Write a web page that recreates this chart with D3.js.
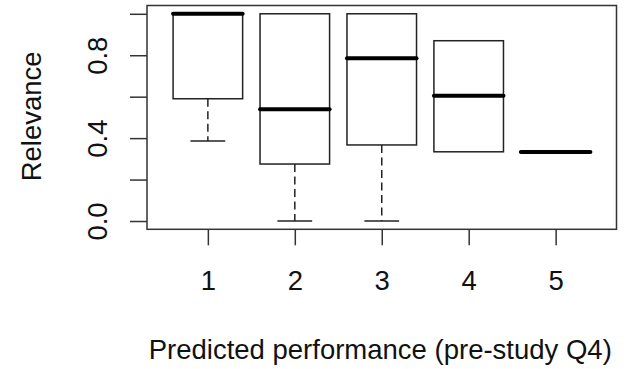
<!DOCTYPE html>
<html>
<head>
<meta charset="utf-8">
<script src="https://cdn.jsdelivr.net/npm/d3@7"></script>
<style>
  html, body { margin: 0; padding: 0; background: #fff; }
  svg { display: block; }
  text { font-family: "Liberation Sans", Arial, sans-serif; fill: #111; }
</style>
</head>
<body>
<svg id="chart" width="627" height="369"></svg>
<script>
// Data: boxplot statistics per category
const categories = ["1", "2", "3", "4", "5"];
const lowerWhisker = [0.386, 0.0, 0.0, 0.334, 0.333];
const q1Values     = [0.590, 0.275, 0.367, 0.334, 0.333];
const medians      = [1.0, 0.539, 0.785, 0.605, 0.333];
const q3Values     = [1.0, 1.0, 1.0, 0.870, 0.333];
const upperWhisker = [1.0, 1.0, 1.0, 0.870, 0.333];
const yTicks = [0, 0.2, 0.4, 0.6, 0.8, 1.0];
const yTickLabels = ["0.0", "", "0.4", "", "0.8", ""];
const xTitle = "Predicted performance (pre-study Q4)";
const yTitle = "Relevance";

(function () {
const svg = d3.select("#chart");
const pl = 147, pr = 616.5, pt = 5.5, pb = 229.3;
const fs = 27.5;

const x = d3.scaleLinear().domain([0.3, 5.7]).range([pl, pr]);
const y = d3.scaleLinear().domain([-0.04, 1.04]).range([pb, pt]);

const data = categories.map((c, i) => ({
  c, pos: i + 1,
  lo: lowerWhisker[i], q1: q1Values[i], med: medians[i], q3: q3Values[i], hi: upperWhisker[i]
}));

const halfW = 0.4;
const stroke = "#222";
const g = svg.append("g");

data.forEach(d => {
  if (d.lo < d.q1) {
    g.append("line").attr("x1", x(d.pos)).attr("x2", x(d.pos))
      .attr("y1", y(d.q1)).attr("y2", y(d.lo))
      .attr("stroke", stroke).attr("stroke-width", 1.5).attr("stroke-dasharray", "8,4.5");
    g.append("line").attr("x1", x(d.pos - halfW / 2)).attr("x2", x(d.pos + halfW / 2))
      .attr("y1", y(d.lo)).attr("y2", y(d.lo))
      .attr("stroke", stroke).attr("stroke-width", 1.5);
  }
  if (d.hi > d.q3) {
    g.append("line").attr("x1", x(d.pos)).attr("x2", x(d.pos))
      .attr("y1", y(d.q3)).attr("y2", y(d.hi))
      .attr("stroke", stroke).attr("stroke-width", 1.5).attr("stroke-dasharray", "8,4.5");
    g.append("line").attr("x1", x(d.pos - halfW / 2)).attr("x2", x(d.pos + halfW / 2))
      .attr("y1", y(d.hi)).attr("y2", y(d.hi))
      .attr("stroke", stroke).attr("stroke-width", 1.5);
  }
});

g.selectAll("rect.box").data(data.filter(d => d.q3 > d.q1)).join("rect")
  .attr("class", "box")
  .attr("x", d => x(d.pos - halfW))
  .attr("width", d => x(d.pos + halfW) - x(d.pos - halfW))
  .attr("y", d => y(d.q3))
  .attr("height", d => y(d.q1) - y(d.q3))
  .attr("fill", "none").attr("stroke", stroke).attr("stroke-width", 1.5);

g.selectAll("line.med").data(data).join("line")
  .attr("class", "med")
  .attr("x1", d => x(d.pos - halfW)).attr("x2", d => x(d.pos + halfW))
  .attr("y1", d => y(d.med)).attr("y2", d => y(d.med))
  .attr("stroke", "#000").attr("stroke-width", 4).attr("stroke-linecap", "round");

svg.append("rect").attr("x", pl).attr("y", pt)
  .attr("width", pr - pl).attr("height", pb - pt)
  .attr("fill", "none").attr("stroke", "#333").attr("stroke-width", 1.5);

const xAxis = d3.axisBottom(x).tickValues(data.map(d => d.pos))
  .tickFormat((d, i) => categories[i]).tickSize(16).tickSizeOuter(0);
const xg = svg.append("g").attr("transform", `translate(0,${pb})`).call(xAxis);
xg.select(".domain").remove();
xg.selectAll(".tick line").attr("stroke", "#333").attr("stroke-width", 1.5);
xg.selectAll(".tick text").attr("font-size", fs).attr("font-family", "Liberation Sans, Arial, sans-serif")
  .attr("fill", "#111").attr("dy", null).attr("y", 61);

const yAxis = d3.axisLeft(y).tickValues(yTicks)
  .tickFormat((d, i) => yTickLabels[i]).tickSize(17).tickSizeOuter(0);
const yg = svg.append("g").attr("transform", `translate(${pl},0)`).call(yAxis);
yg.select(".domain").remove();
yg.selectAll(".tick line").attr("stroke", "#333").attr("stroke-width", 1.5);
yg.selectAll(".tick text").attr("font-size", fs).attr("font-family", "Liberation Sans, Arial, sans-serif")
  .attr("fill", "#111")
  .attr("x", null).attr("dy", null)
  .attr("text-anchor", "middle")
  .attr("transform", "translate(-40,0) rotate(-90)");

svg.append("text").attr("x", (pl + pr) / 2 - 1.5).attr("y", 359)
  .attr("text-anchor", "middle").attr("font-size", fs).text(xTitle);
svg.append("text").attr("transform", `translate(41,${(pt + pb) / 2 - 1}) rotate(-90)`)
  .attr("text-anchor", "middle").attr("font-size", fs).text(yTitle);
})();
</script>
</body>
</html>
